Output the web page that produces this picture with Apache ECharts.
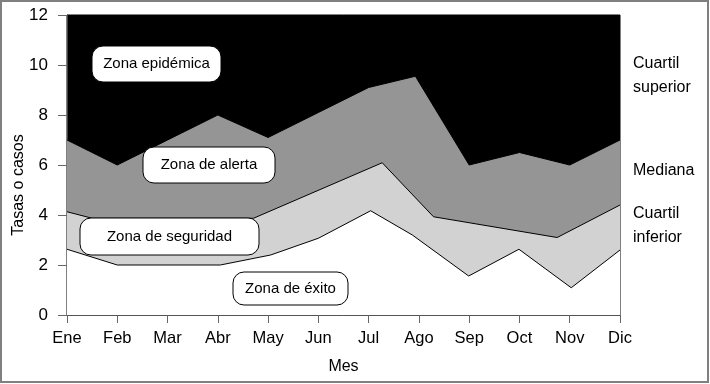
<!DOCTYPE html>
<html>
<head>
<meta charset="utf-8">
<script src="https://cdn.jsdelivr.net/npm/echarts@6/dist/echarts.min.js"></script>
<style>
html,body{margin:0;padding:0;background:#fff;}
#chart{width:710px;height:384px;}
</style>
</head>
<body>
<div id="chart"></div>
<script>
const months = ['Ene','Feb','Mar','Abr','May','Jun','Jul','Ago','Sep','Oct','Nov','Dic'];
// [month index, value]
const upperQuartile = [[0,7.0],[1,6.0],[2,7.0],[3,8.0],[4,7.1],[5,8.1],[6,9.1],[6.93,9.55],[8,6.0],[9,6.5],[10,6.0],[11,7.0]];
const median = [[0,4.13],[0.5,3.87],[3.71,3.87],[6.27,6.09],[7.29,3.93],[9.75,3.1],[11,4.4]];
const lowerQuartile = [[0,2.63],[1,2.0],[3.05,2.0],[4.05,2.4],[5,3.07],[6.04,4.17],[6.87,3.2],[7.99,1.56],[8.99,2.63],[10.03,1.09],[11,2.6]];
const zoneLabels = ['Zona epidémica','Zona de alerta','Zona de seguridad','Zona de éxito'];
const sideLabels = ['Cuartil','superior','Mediana','Cuartil','inferior'];

const FONT = '"Liberation Sans", Arial, sans-serif';
const chart = echarts.init(document.getElementById('chart'), null, {renderer:'canvas'});

function box(x, y, w, h, text) {
  return [
    {type:'rect', z:100, silent:true, shape:{x:x, y:y, width:w, height:h, r:11}, style:{fill:'#fff', stroke:'#000', lineWidth:1}},
    {type:'text', z:101, silent:true, style:{x:x+w/2, y:y+h/2, text:text, align:'center', verticalAlign:'middle', fill:'#000', font:'15px ' + FONT}}
  ];
}
function side(y, text) {
  return {type:'text', z:100, silent:true, style:{x:633, y:y, text:text, align:'left', verticalAlign:'middle', fill:'#000', font:'16px ' + FONT}};
}

function areaSeries(name, data, color) {
  return {
    name: name, type: 'line', data: data, symbol: 'none', smooth: false,
    lineStyle: {color: '#000', width: 1},
    areaStyle: {color: color, opacity: 1},
    silent: true, animation: false
  };
}

chart.setOption({
  animation: false,
  backgroundColor: '#fff',
  grid: {left: 67, right: 90, top: 15, bottom: 69, show: true, backgroundColor: '#000', borderColor: '#000', borderWidth: 1},
  xAxis: {
    type: 'value', min: 0, max: 11, interval: 1,
    name: 'Mes', nameLocation: 'middle', nameGap: 44,
    nameTextStyle: {fontSize: 16, color: '#000', fontFamily: FONT},
    axisLine: {show: true, lineStyle: {color: '#555', width: 1}},
    axisTick: {show: true, length: 8, lineStyle: {color: '#666'}},
    axisLabel: {formatter: v => months[v] || '', fontSize: 16.5, color: '#000', fontFamily: FONT, margin: 15},
    splitLine: {show: false}
  },
  yAxis: {
    type: 'value', min: 0, max: 12, interval: 2,
    axisLine: {show: true, lineStyle: {color: '#444', width: 1}},
    axisTick: {show: true, length: 9, lineStyle: {color: '#666'}},
    axisLabel: {fontSize: 17, color: '#000', fontFamily: FONT, margin: 19},
    splitLine: {show: false}
  },
  series: [
    areaSeries('Cuartil superior', upperQuartile, '#959595'),
    areaSeries('Mediana', median, '#d2d2d2'),
    areaSeries('Cuartil inferior', lowerQuartile, '#ffffff')
  ],
  graphic: [].concat(
    [{type:'rect', z:200, silent:true, shape:{x:1, y:1, width:707, height:381}, style:{fill:'none', stroke:'#808080', lineWidth:2}},
     {type:'text', z:100, silent:true, rotation: Math.PI/2, x:18.5, y:185, style:{x:0, y:0, text:'Tasas o casos', align:'center', verticalAlign:'middle', fill:'#000', font:'16px ' + FONT}}],
    box(92, 46, 129, 36, zoneLabels[0]),
    box(143, 147, 132, 36, zoneLabels[1]),
    box(80, 218, 179, 37, zoneLabels[2]),
    box(233, 272, 115, 33, zoneLabels[3]),
    [side(64, sideLabels[0]),
     side(88, sideLabels[1]),
     side(171, sideLabels[2]),
     side(214, sideLabels[3]),
     side(238, sideLabels[4])]
  )
});
</script>
</body>
</html>
